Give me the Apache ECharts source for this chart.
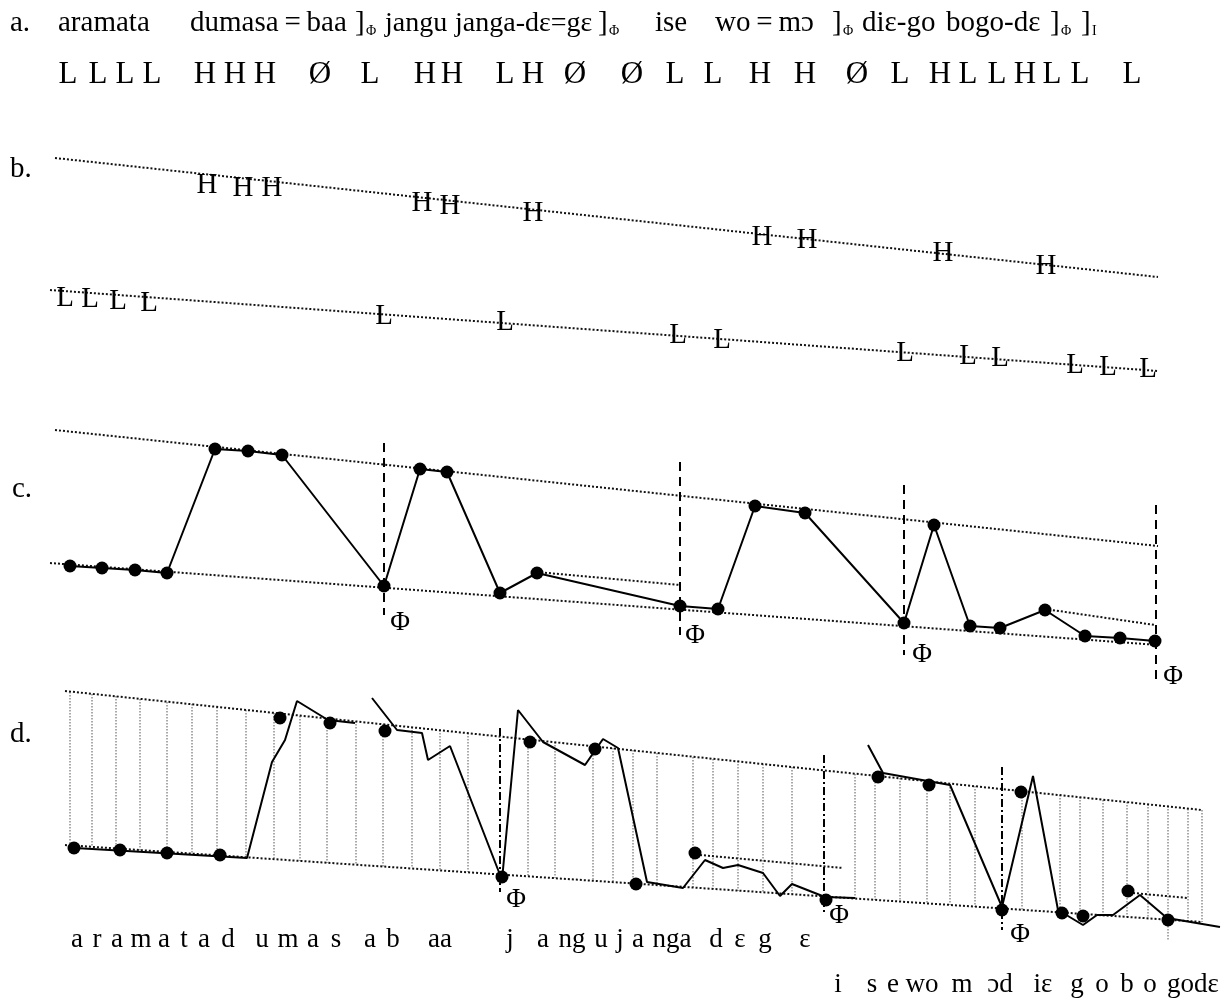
<!DOCTYPE html>
<html><head><meta charset="utf-8">
<script src="https://cdn.jsdelivr.net/npm/echarts/dist/echarts.min.js"></script>
<style>html,body{margin:0;padding:0;background:#fff}#chart{width:1228px;height:1006px}</style>
</head><body><div id="chart"></div>
<script>
// ---------- Panel a ----------
const aTones  = ['L','L','L','L','H','H','H','Ø','L','H','H','L','H','Ø','Ø','L','L','H','H','Ø','L','H','L','L','H','L','L','L'];
const aTonesX = [68,98,125,152,205,235,265,320,370,425,452,505,533,575,632,675,713,760,805,857,900,940,968,997,1025,1052,1080,1132];
const aTonesY = [75,75,75,75,75,75,75,75,75,75,75,75,75,75,75,75,75,75,75,75,75,75,75,75,75,75,75,75];

// ---------- Panel b ----------
const bHx = [207,243,272,422,450,533,762,807,943,1046];
const bHy = [185,188,188,203,206,213,237,240,253,266];
const bLx = [65,90,118,149,384,505,678,722,905,968,1000,1075,1108,1148];
const bLy = [298,299,301,303,316,322,335,340,353,356,358,365,367,369];
const bUpper = [55,158,1158,277];
const bLower = [50,290,1158,371];

// ---------- Panel c ----------
const cX = [70,102,135,167,215,248,282,384,420,447,500,537,680,718,755,805,904,934,970,1000,1045,1085,1120,1155];
const cY = [566,568,570,573,449,451,455,586,469,472,593,573,606,609,506,513,623,525,626,628,610,636,638,641];
const cUpper = [55,430,1158,546];
const cLower = [50,563,1158,645];
const cReset = [[537,572,680,585],[1045,609,1155,625]];
const cBoundX = [384,680,904,1156];
const cBoundTop = [443,462,485,505];
const cBoundBot = [615,635,655,680];
const cPhiX = [400,695,922,1173];
const cPhiY = [623,636,655,677];

// ---------- Panel d ----------
const dUpper = [65,691,1202,810];
const dLower = [65,845,1202,922];
const dReset = [[700,855,843,868],[1133,893,1188,898]];
const dGridX   = [70,92,116,140,167,192,217,246,274,300,327,356,383,412,440,468,528,555,593,613,633,657,693,713,738,763,792,855,875,900,927,950,975,1022,1060,1080,1103,1127,1148,1168,1188,1202];
const dGridTop = [692,694,696,699,702,704,707,710,713,716,718,721,724,727,730,733,739,742,746,748,750,753,757,759,761,764,767,774,776,778,781,784,786,791,795,797,800,802,804,806,809,810];
const dGridBot = [845,847,848,850,852,854,855,857,859,861,863,865,867,868,870,872,876,878,881,882,883,885,888,889,891,892,894,898,900,902,903,905,907,910,912,914,915,917,918,940,921,922];
const dBoundX = [500,824,1002];
const dBoundTop = [728,755,767];
const dBoundBot = [892,915,930];
const dPhiX = [516,839,1020];
const dPhiY = [900,916,935];
const dDotX = [74,120,167,220,280,330,385,502,530,595,636,695,826,878,929,1002,1021,1062,1083,1128,1168];
const dDotY = [848,850,853,855,718,723,731,877,742,749,884,853,900,777,785,910,792,913,916,891,920];
const dPitch1 = [[75,848],[247,858],[272,762],[285,740],[297,701],[328,720],[355,723]];
const dPitch2 = [[372,698],[397,730],[422,733],[428,760],[450,746],[502,880],[518,710],[543,742],[585,765],[603,739],[618,748],[647,882],[683,888],[705,860],[723,868],[738,865],[763,873],[780,896],[792,884],[825,897],[855,898]];
const dPitch3 = [[868,745],[883,773],[950,785],[1002,907],[1033,776],[1058,910],[1083,925],[1097,915],[1113,915],[1140,895],[1167,918],[1220,927]];
const dSyl1  = ['a','r','a','m','a','t','a','d','u','m','a','s','a','b','aa','j','a','ng','u','j','a','nga','d','ε','g','ε'];
const dSyl1X = [77,97,117,141,164,184,204,228,262,288,313,336,370,393,440,510,543,572,601,620,638,672,716,740,765,805];
const dSyl2  = ['i','s','e','wo','m','ɔd','iε','g','o','b','o','godε'];
const dSyl2X = [838,872,893,922,962,1000,1043,1077,1102,1127,1150,1193];

const SERIF = "'Liberation Serif','Times New Roman',serif";

function textSeries(xs, ys, labels, size) {
  return {
    type: 'custom', coordinateSystem: 'cartesian2d', silent: true, clip: false, z: 8,
    data: xs.map((x, i) => [x, ys[i]]),
    renderItem: function (params, api) {
      const p = api.coord([api.value(0), api.value(1)]);
      return { type: 'text', x: p[0], y: p[1],
        style: { text: labels[params.dataIndex], fontSize: size, fontFamily: SERIF,
                 fill: '#000', align: 'center', verticalAlign: 'middle' } };
    }
  };
}
function segSeries(segs, stroke, width, dash) {
  return {
    type: 'custom', coordinateSystem: 'cartesian2d', silent: true, clip: false,
    data: segs,
    renderItem: function (params, api) {
      const p1 = api.coord([api.value(0), api.value(1)]);
      const p2 = api.coord([api.value(2), api.value(3)]);
      return { type: 'line', shape: { x1: p1[0], y1: p1[1], x2: p2[0], y2: p2[1] },
        style: { stroke: stroke, lineWidth: width, lineDash: dash } };
    }
  };
}
function vertSeries(xs, tops, bots, stroke, width, dash) {
  return segSeries(xs.map((x, i) => [x, tops[i], x, bots[i]]), stroke, width, dash);
}
function lineSeries(pts) {
  return { type: 'line', data: pts, symbol: 'none', silent: true,
    lineStyle: { color: '#000', width: 2, opacity: 1 }, z: 5 };
}
function dotSeries(xs, ys) {
  return { type: 'scatter', data: xs.map((x, i) => [x, ys[i]]), symbol: 'circle',
    symbolSize: 13, itemStyle: { color: '#000', opacity: 1 }, silent: true, z: 6 };
}

const DOT = [2, 2];
const series = [
  // panel a
  textSeries(aTonesX, aTonesY, aTones, 31),
  // panel b
  segSeries([bUpper, bLower], '#111', 2, DOT),
  textSeries(bHx, bHy, bHx.map(() => 'H'), 29),
  textSeries(bLx, bLy, bLx.map(() => 'L'), 29),
  // panel c
  segSeries([cUpper, cLower].concat(cReset), '#111', 2, DOT),
  vertSeries(cBoundX, cBoundTop, cBoundBot, '#000', 2, [9, 6]),
  lineSeries(cX.map((x, i) => [x, cY[i]])),
  dotSeries(cX, cY),
  textSeries(cPhiX, cPhiY, cPhiX.map(() => 'Φ'), 27),
  // panel d
  vertSeries(dGridX, dGridTop, dGridBot, '#555', 1, [1.5, 1.5]),
  segSeries([dUpper, dLower].concat(dReset), '#111', 2, DOT),
  vertSeries(dBoundX, dBoundTop, dBoundBot, '#000', 2, [8, 3, 2, 3]),
  lineSeries(dPitch1), lineSeries(dPitch2), lineSeries(dPitch3),
  dotSeries(dDotX, dDotY),
  textSeries(dPhiX, dPhiY, dPhiX.map(() => 'Φ'), 27),
  textSeries(dSyl1X, dSyl1X.map(() => 940), dSyl1, 27),
  textSeries(dSyl2X, dSyl2X.map(() => 985), dSyl2, 27)
];

function T(x, y, text, size) {
  return { type: 'text', left: x, top: y, silent: true,
    style: { text: text, fontSize: size || 29, fontFamily: SERIF, fill: '#000' } };
}
const graphics = [
  T(10, 9, 'a.'), T(58, 9, 'aramata'), T(190, 9, 'dumasa\u2009=\u2009baa'),
  T(355, 9, ']'), T(366, 24, 'Φ', 14),
  T(385, 10, 'jangu', 28), T(455, 10, 'janga-dε=gε', 28),
  T(598, 9, ']'), T(609, 24, 'Φ', 14),
  T(655, 9, 'ise'), T(715, 9, 'wo\u2009=\u2009mɔ'),
  T(832, 9, ']'), T(843, 24, 'Φ', 14),
  T(862, 9, 'diε-go'), T(946, 9, 'bogo-dε'),
  T(1050, 9, ']'), T(1061, 24, 'Φ', 14), T(1081, 9, ']'), T(1092, 24, 'I', 14),
  T(10, 155, 'b.'), T(12, 475, 'c.'), T(10, 720, 'd.')
];

const chart = echarts.init(document.getElementById('chart'), null, { renderer: 'canvas' });
chart.setOption({
  animation: false,
  backgroundColor: '#fff',
  grid: { left: 0, right: 0, top: 0, bottom: 0 },
  xAxis: { type: 'value', min: 0, max: 1228, show: false },
  yAxis: { type: 'value', min: 0, max: 1006, inverse: true, show: false },
  graphic: graphics,
  series: series
});
</script></body></html>
